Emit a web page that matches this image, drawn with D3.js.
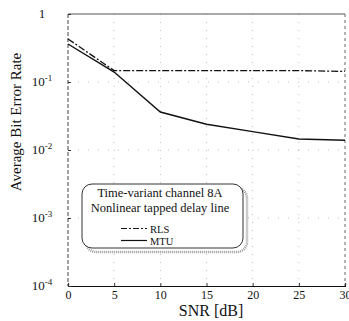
<!DOCTYPE html>
<html>
<head>
<meta charset="utf-8">
<script src="https://cdn.jsdelivr.net/npm/d3@7"></script>
<style>
  body { margin: 0; background: #fff; }
  svg { font-family: "Liberation Serif", "DejaVu Serif", serif; }
</style>
</head>
<body>
<div id="chart"></div>
<script>
// data
const snr = [0, 5, 10, 15, 20, 25, 30];
const rls = [0.43, 0.147, 0.147, 0.147, 0.147, 0.147, 0.143];
const mtu = [0.362, 0.14, 0.0362, 0.0239, 0.0186, 0.0145, 0.0139];
const xTicks = [0, 5, 10, 15, 20, 25, 30];
const yTicks = [1, 1e-1, 1e-2, 1e-3, 1e-4];
const yTickExp = ['', '-1', '-2', '-3', '-4'];
const legendLines = ['Time-variant channel 8A', 'Nonlinear tapped delay line'];

const width = 349, height = 321;
const margin = {top: 14, right: 4, bottom: 35, left: 68};

const svg = d3.select('#chart').append('svg')
    .attr('width', width)
    .attr('height', height);

const x = d3.scaleLinear().domain([0, 30]).range([margin.left, width - margin.right]);
const y = d3.scaleLog().domain([1e-4, 1]).range([height - margin.bottom, margin.top]);

// faint dotted grid
svg.selectAll('.vgrid')
    .data(xTicks.slice(1, -1))
    .enter().append('line')
    .attr('x1', d => x(d)).attr('x2', d => x(d))
    .attr('y1', y(1)).attr('y2', y(1e-4))
    .style('stroke', '#bbb').style('stroke-dasharray', '1,7');
svg.selectAll('.hgrid')
    .data(yTicks.slice(1, -1))
    .enter().append('line')
    .attr('x1', x(0)).attr('x2', x(30))
    .attr('y1', d => y(d)).attr('y2', d => y(d))
    .style('stroke', '#bbb').style('stroke-dasharray', '1,9');

// frame
svg.append('line').attr('x1', x(0)).attr('x2', x(30)).attr('y1', y(1)).attr('y2', y(1))
    .style('stroke', '#555').style('stroke-width', 1);
svg.append('line').attr('x1', x(0)).attr('x2', x(0)).attr('y1', y(1)).attr('y2', y(1e-4))
    .style('stroke', '#444').style('stroke-dasharray', '4,2');
svg.append('line').attr('x1', x(30)).attr('x2', x(30)).attr('y1', y(1)).attr('y2', y(1e-4))
    .style('stroke', '#666').style('stroke-dasharray', '3,3');

// axes
const xAxis = d3.axisBottom(x).tickValues(xTicks).tickSize(-3).tickPadding(4);
const gx = svg.append('g')
    .attr('transform', 'translate(0,' + y(1e-4) + ')')
    .call(xAxis);
gx.select('.domain').style('stroke', '#111').style('stroke-width', 1.2);
gx.selectAll('.tick line').style('stroke', '#333');
gx.selectAll('text')
    .style('font-family', '"Liberation Serif", serif')
    .style('font-size', '12px')
    .style('fill', '#111');

const yAxis = d3.axisLeft(y).tickValues(yTicks).tickSize(-3).tickFormat('');
const gy = svg.append('g')
    .attr('transform', 'translate(' + x(0) + ',0)')
    .call(yAxis);
gy.select('.domain').remove();
gy.selectAll('.tick line').style('stroke', '#333');

// y tick labels with superscripts
const yl = svg.selectAll('.ylabel')
    .data(yTicks)
    .enter().append('text')
    .attr('class', 'ylabel')
    .attr('x', 42)
    .attr('y', d => y(d) + 4)
    .attr('text-anchor', 'middle')
    .style('font-size', '13px')
    .style('fill', '#111');
yl.append('tspan').text((d, i) => i === 0 ? '1' : '10');
yl.append('tspan')
    .attr('dy', -5)
    .style('font-size', '9px')
    .text((d, i) => yTickExp[i]);

// axis titles
svg.append('text')
    .attr('x', 211).attr('y', 316)
    .attr('text-anchor', 'middle')
    .style('font-size', '16px')
    .style('fill', '#111')
    .text('SNR [dB]');
svg.append('text')
    .attr('transform', 'translate(21,122) rotate(-90)')
    .attr('text-anchor', 'middle')
    .style('font-size', '15px')
    .style('fill', '#111')
    .text('Average Bit Error Rate');

// curves
const line = d3.line()
    .x((d, i) => x(snr[i]))
    .y(d => y(d));

svg.append('path')
    .datum(rls)
    .attr('d', line)
    .style('fill', 'none')
    .style('stroke', '#111')
    .style('stroke-width', 1.3)
    .style('stroke-dasharray', '7,2,2,2');

svg.append('path')
    .datum(mtu)
    .attr('d', line)
    .style('fill', 'none')
    .style('stroke', '#111')
    .style('stroke-width', 1.4);

// legend box with shadow
const lg = svg.append('g');
lg.append('rect')
    .attr('x', 86).attr('y', 188).attr('width', 161).attr('height', 64)
    .attr('rx', 10)
    .style('fill', 'none')
    .style('stroke', '#999')
    .style('stroke-width', 2.5)
    .style('stroke-dasharray', '1,1');
lg.append('rect')
    .attr('x', 82).attr('y', 184).attr('width', 161).attr('height', 64)
    .attr('rx', 10)
    .style('fill', '#fff')
    .style('stroke', '#333')
    .style('stroke-width', 1);

lg.selectAll('.lgtext')
    .data(legendLines)
    .enter().append('text')
    .attr('x', 160)
    .attr('y', (d, i) => 197 + i * 15)
    .attr('text-anchor', 'middle')
    .style('font-size', '12.5px')
    .style('fill', '#111')
    .text(d => d);

const entries = [
    {name: 'RLS', dash: '6,2,2,2', y: 228.5},
    {name: 'MTU', dash: null, y: 240.5}
];
entries.forEach(e => {
    lg.append('line')
        .attr('x1', 121).attr('x2', 147)
        .attr('y1', e.y).attr('y2', e.y)
        .style('stroke', '#111')
        .style('stroke-width', 1.2)
        .style('stroke-dasharray', e.dash);
    lg.append('text')
        .attr('x', 150).attr('y', e.y + 4)
        .style('font-size', '10.5px')
        .style('fill', '#111')
        .text(e.name);
});
</script>
</body>
</html>
